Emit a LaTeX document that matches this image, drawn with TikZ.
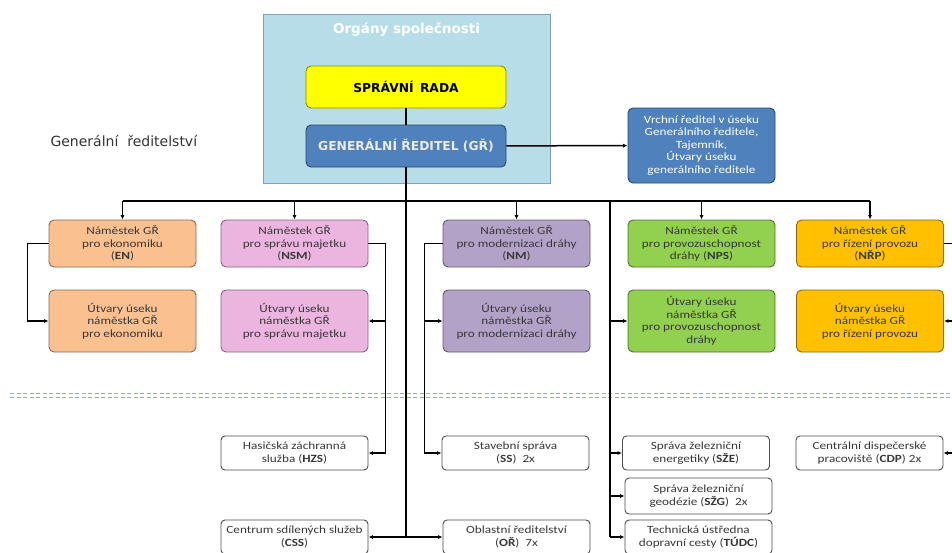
\documentclass[tikz,border=0pt]{standalone}
\usepackage{fontspec}
\setmainfont{Carlito}[FakeStretch=1.2]
\newfontfamily\wideface{DejaVu Sans}
\usetikzlibrary{arrows.meta, positioning}

\definecolor{orgfill}{HTML}{B7DDE8}
\definecolor{orgdraw}{HTML}{7F9FBF}
\definecolor{radafill}{HTML}{FFFF00}
\definecolor{grfill}{HTML}{4F81BD}
\definecolor{enfill}{HTML}{FAC090}
\definecolor{nsmfill}{HTML}{EBB5E0}
\definecolor{nmfill}{HTML}{B3A2C7}
\definecolor{npsfill}{HTML}{92D050}
\definecolor{nrpfill}{HTML}{FFC000}
\definecolor{sepblue}{HTML}{90A8D8}

\tikzset{
  unit/.style={draw=#1!55!black, fill=#1, rounded corners=5pt, line width=0.9pt,
    minimum width=147pt, align=center, text=black!78, inner sep=1pt,
    font=\fontsize{11}{12.5}\selectfont},
  topbox/.style={unit=#1, minimum width=200pt, minimum height=42pt,
    font=\wideface\bfseries\fontsize{12.3}{14}\selectfont},
  leaf/.style={draw=black!70, fill=white, rounded corners=4pt, line width=0.9pt,
    minimum width=147pt, minimum height=34pt, align=center, text=black!78, inner sep=1pt,
    font=\fontsize{11}{12.5}\selectfont},
  link/.style={line width=1.5pt, black},
  tip/.style={-{Latex[length=4.5pt,width=4pt]}},
  sep/.style={draw=sepblue, line width=1pt, dash pattern=on 4pt off 2.5pt}
}

\begin{document}
\begin{tikzpicture}[x=1pt,y=-1pt]
\useasboundingbox (0,0) rectangle (952,552);

% organy spolecnosti
\node[draw=orgdraw, fill=orgfill, line width=0.9pt, minimum width=287pt, minimum height=169pt] (org) at (406.5,98.5) {};
\node[font=\wideface\bfseries\fontsize{13.5}{15}\selectfont, text=white] (orgtitle) at (406.5,30) {Orgány společnosti};
\node[topbox=radafill, text=black] (rada) at (406,87) {SPRÁVNÍ \,RADA};
\node[topbox=grfill, text=white!92!black] (gr) at (406,146) {GENERÁLNÍ ŘEDITEL (GŘ)};
\node[unit=grfill, text=white, minimum height=75pt] (vrchni) at (701.5,145.5)
  {Vrchní ředitel v úseku\\Generálního ředitele,\\Tajemník,\\Útvary úseku\\generálního ředitele};
\node[font=\wideface\fontsize{14}{16}\selectfont, text=black!80, anchor=west] (gen) at (47,141) {Generální \ ředitelství};

% separator
\draw[sep] (10,393) -- (952,393);
\draw[sep] (10,397) -- (952,397);

% namestci
\node[unit=enfill, minimum height=47pt] (en) at (122.5,243.5) {Náměstek GŘ\\pro ekonomiku\\(\textbf{EN})};
\node[unit=nsmfill, minimum height=47pt] (nsm) at (294.5,243.5) {Náměstek GŘ\\pro správu majetku\\(\textbf{NSM})};
\node[unit=nmfill, minimum height=47pt] (nm) at (516.5,243.5) {Náměstek GŘ\\pro modernizaci dráhy\\(\textbf{NM})};
\node[unit=npsfill, minimum height=47pt] (nps) at (701.5,243.5) {Náměstek GŘ\\pro provozuschopnost\\dráhy (\textbf{NPS})};
\node[unit=nrpfill, minimum height=47pt] (nrp) at (870,243.5) {Náměstek GŘ\\pro řízení provozu\\(\textbf{NŘP})};

% utvary useku
\node[unit=enfill, minimum height=62pt] (en2) at (122.5,321) {Útvary úseku\\náměstka GŘ\\pro ekonomiku};
\node[unit=nsmfill, minimum height=62pt] (nsm2) at (294.5,321) {Útvary úseku\\náměstka GŘ\\pro správu majetku};
\node[unit=nmfill, minimum height=62pt] (nm2) at (516.5,321) {Útvary úseku\\náměstka GŘ\\pro modernizaci dráhy};
\node[unit=npsfill, minimum height=62pt] (nps2) at (701.5,321) {Útvary úseku\\náměstka GŘ\\pro provozuschopnost\\dráhy};
\node[unit=nrpfill, minimum height=62pt] (nrp2) at (870,321) {Útvary úseku\\náměstka GŘ\\pro řízení provozu};

% organizacni jednotky
\node[leaf] (hzs) at (294.5,453) {Hasičská záchranná\\služba (\textbf{HZS})};
\node[leaf] (ss) at (515.5,453) {Stavební správa\\(\textbf{SS}) \ 2x};
\node[leaf] (sze) at (696,453) {Správa železniční\\energetiky (\textbf{SŽE})};
\node[leaf] (cdp) at (869.5,453) {Centrální dispečerské\\pracoviště (\textbf{CDP}) 2x};
\node[leaf, minimum height=36pt] (szg) at (698.5,496) {Správa železniční\\geodézie (\textbf{SŽG}) \ 2x};
\node[leaf] (tudc) at (698.5,537) {Technická ústředna\\dopravní cesty (\textbf{TÚDC})};
\node[leaf] (css) at (294.5,537) {Centrum sdílených služeb\\(\textbf{CSS})};
\node[leaf] (obl) at (516.5,537) {Oblastní ředitelství\\(\textbf{OŘ}) \ 7x};

% spojnice
\draw[link] (rada) -- (gr);
\draw[link, tip] (gr) -- (vrchni);
\coordinate (bl) at (122.5,201);
\coordinate (br) at (870,201);
\draw[link] (bl) -- (br);
\foreach \n in {en,nsm,nm,nps,nrp}
  \draw[link, tip] (\n.north |- bl) -- (\n.north);
\coordinate (cj) at (gr.south |- css);
\draw[link] (gr.south) -- (cj);
\draw[link, tip] (cj) -- (css);
\draw[link, tip] (cj) -- (obl);
\coordinate (pj) at (610,201);
\draw[link] (pj) -- (pj |- tudc);
\foreach \n in {nps2,sze,szg,tudc}
  \draw[link, tip] (pj |- \n.west) -- (\n.west);
\draw[link, tip] (en.west) -- ++(-21,0) |- (en2.west);
\draw[link, tip] (nsm.east) -- ++(17,0) |- (hzs.east);
\draw[link, tip] (nsm.east) ++(17,0) |- (nsm2.east);
\draw[link, tip] (nm.west) -- ++(-18,0) |- (ss.west);
\draw[link, tip] (nm.west) ++(-18,0) |- (nm2.west);
\draw[link, tip] (nrp.east) -- ++(12,0) |- (cdp.east);
\draw[link, tip] (nrp.east) ++(12,0) |- (nrp2.east);
\end{tikzpicture}
\end{document}
